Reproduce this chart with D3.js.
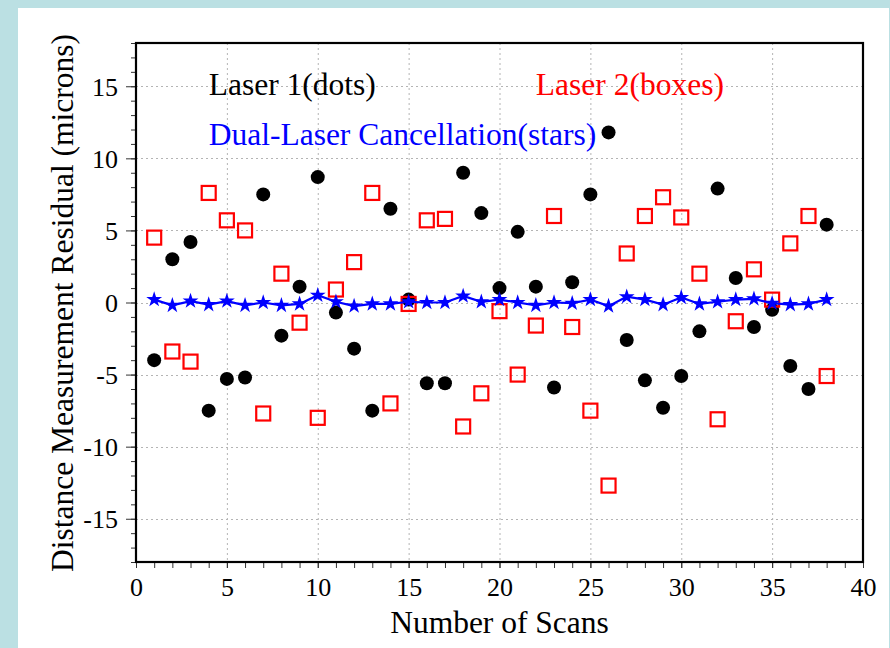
<!DOCTYPE html>
<html>
<head>
<meta charset="utf-8">
<script src="https://cdn.jsdelivr.net/npm/d3@7"></script>
<style>
  html, body { margin: 0; padding: 0; background: #bbe0e3; }
  svg { display: block; }
  text { font-family: "Liberation Serif", "Times New Roman", serif; }
</style>
</head>
<body>
<svg id="chart" width="890" height="648"></svg>
<script>
// Scan numbers 1..38
const scans = [1,2,3,4,5,6,7,8,9,10,11,12,13,14,15,16,17,18,19,20,21,22,23,24,25,26,27,28,29,30,31,32,33,34,35,36,37,38];

// Laser 1 residuals (microns)
const laser1 = [-4.0, 3.0, 4.2, -7.5, -5.3, -5.2, 7.5, -2.3, 1.1, 8.7,
                -0.7, -3.2, -7.5, 6.5, 0.2, -5.6, -5.6, 9.0, 6.2, 1.0,
                4.9, 1.1, -5.9, 1.4, 7.5, 11.8, -2.6, -5.4, -7.3, -5.1,
                -2.0, 7.9, 1.7, -1.7, -0.5, -4.4, -6.0, 5.4];

// Laser 2 residuals (microns)
const laser2 = [4.5, -3.4, -4.1, 7.6, 5.7, 5.0, -7.7, 2.0, -1.4, -8.0,
                0.9, 2.8, 7.6, -7.0, -0.1, 5.7, 5.8, -8.6, -6.3, -0.6,
                -5.0, -1.6, 6.0, -1.7, -7.5, -12.7, 3.4, 6.0, 7.3, 5.9,
                2.0, -8.1, -1.3, 2.3, 0.2, 4.1, 6.0, -5.1];

// Dual-laser cancellation residuals (microns)
const dual = [0.2, -0.2, 0.1, -0.15, 0.1, -0.2, 0.0, -0.2, -0.1, 0.5,
              0.05, -0.25, -0.1, -0.1, 0.05, 0.0, 0.0, 0.45, 0.05, 0.2,
              0.0, -0.2, 0.0, -0.05, 0.2, -0.25, 0.4, 0.2, -0.15, 0.35,
              -0.1, 0.05, 0.2, 0.25, -0.05, -0.15, -0.1, 0.2];

const xTicks = [0, 5, 10, 15, 20, 25, 30, 35, 40];
const yTicks = [-15, -10, -5, 0, 5, 10, 15];
const xLabel = "Number of Scans";
const yLabel = "Distance Measurement Residual (microns)";
const legend1 = "Laser 1(dots)";
const legend2 = "Laser 2(boxes)";
const legend3 = "Dual-Laser Cancellation(stars)";

const svg = d3.select("#chart");

// white panel
svg.append("rect").attr("x", 18).attr("y", 8).attr("width", 871).attr("height", 640).attr("fill", "#ffffff");

const plotL = 136, plotR = 863, plotT = 43, plotB = 562;
const x = d3.scaleLinear().domain([0, 40]).range([plotL, plotR]);
const y = d3.scaleLinear().domain([-18, 18]).range([plotB, plotT]);

// dotted grid at major ticks
const grid = svg.append("g").attr("stroke", "#b4b4b4").attr("stroke-width", 1).attr("stroke-dasharray", "2,3");
grid.selectAll("line.v").data(xTicks.filter(d => d > 0 && d < 40)).join("line")
  .attr("x1", d => x(d) + 0.5).attr("x2", d => x(d) + 0.5).attr("y1", plotT).attr("y2", plotB);
grid.selectAll("line.h").data(yTicks).join("line")
  .attr("x1", plotL).attr("x2", plotR).attr("y1", d => Math.round(y(d)) + 0.5).attr("y2", d => Math.round(y(d)) + 0.5);

// minor ticks every unit
const minorX = d3.range(0, 41, 1);
const minorY = d3.range(-18, 19, 1);
const plain = d => String(d);

const xAxis = svg.append("g").attr("transform", `translate(0,${plotB})`);
xAxis.call(d3.axisBottom(x).tickValues(minorX).tickSize(6).tickFormat(""));
const xMajor = svg.append("g").attr("transform", `translate(0,${plotB})`);
xMajor.call(d3.axisBottom(x).tickValues(xTicks).tickSize(6).tickPadding(10).tickFormat(plain));

const yAxis = svg.append("g").attr("transform", `translate(${plotL},0)`);
yAxis.call(d3.axisLeft(y).tickValues(minorY).tickSize(5).tickFormat(""));
const yMajor = svg.append("g").attr("transform", `translate(${plotL},0)`);
yMajor.call(d3.axisLeft(y).tickValues(yTicks).tickSize(10).tickPadding(8).tickFormat(plain));

[xAxis, xMajor, yAxis, yMajor].forEach(g => {
  g.select(".domain").remove();
  g.selectAll(".tick line").attr("stroke", "#333").attr("stroke-width", 1);
  g.selectAll(".tick text").attr("font-family", "Liberation Serif, serif").attr("font-size", 26).attr("fill", "#000");
});
xMajor.selectAll(".tick text").attr("dy", "0.71em");
yMajor.selectAll(".tick text").attr("dy", "0.34em");

// data marks
const g = svg.append("g");

// Laser 1 dots
g.selectAll("circle.l1").data(scans).join("circle")
  .attr("cx", (d, i) => x(d)).attr("cy", (d, i) => y(laser1[i]))
  .attr("r", 7).attr("fill", "#000");

// Laser 2 boxes
const box = 14;
g.selectAll("rect.l2").data(scans).join("rect")
  .attr("x", (d, i) => x(d) - box / 2).attr("y", (d, i) => y(laser2[i]) - box / 2)
  .attr("width", box).attr("height", box)
  .attr("fill", "none").attr("stroke", "#ff0000").attr("stroke-width", 2.2);

// Dual-laser line with stars
const line = d3.line().x((d, i) => x(d)).y((d, i) => y(dual[i]));
g.append("path").datum(scans).attr("d", line)
  .attr("fill", "none").attr("stroke", "#0000ff").attr("stroke-width", 2.2);
const star = d3.symbol().type(d3.symbolStar).size(78);
g.selectAll("path.st").data(scans).join("path")
  .attr("d", star)
  .attr("transform", (d, i) => `translate(${x(d)},${y(dual[i])})`)
  .attr("fill", "#0000ff");

// frame
svg.append("rect").attr("x", plotL).attr("y", plotT).attr("width", plotR - plotL).attr("height", plotB - plotT)
  .attr("fill", "none").attr("stroke", "#000").attr("stroke-width", 2.2);

// legend texts
const fs = 31.5;
svg.append("text").attr("x", x(4)).attr("y", 95).attr("font-size", fs).attr("fill", "#000").text(legend1);
svg.append("text").attr("x", x(22)).attr("y", 95).attr("font-size", fs).attr("fill", "#ff0000").text(legend2);
svg.append("text").attr("x", x(4)).attr("y", 145).attr("font-size", fs).attr("fill", "#0000ff").text(legend3);

// axis titles
svg.append("text").attr("x", (plotL + plotR) / 2).attr("y", 633).attr("text-anchor", "middle")
  .attr("font-size", fs).attr("fill", "#000").text(xLabel);
svg.append("text").attr("transform", `translate(73,303) rotate(-90)`).attr("text-anchor", "middle")
  .attr("font-size", fs).attr("fill", "#000").text(yLabel);
</script>
</body>
</html>
